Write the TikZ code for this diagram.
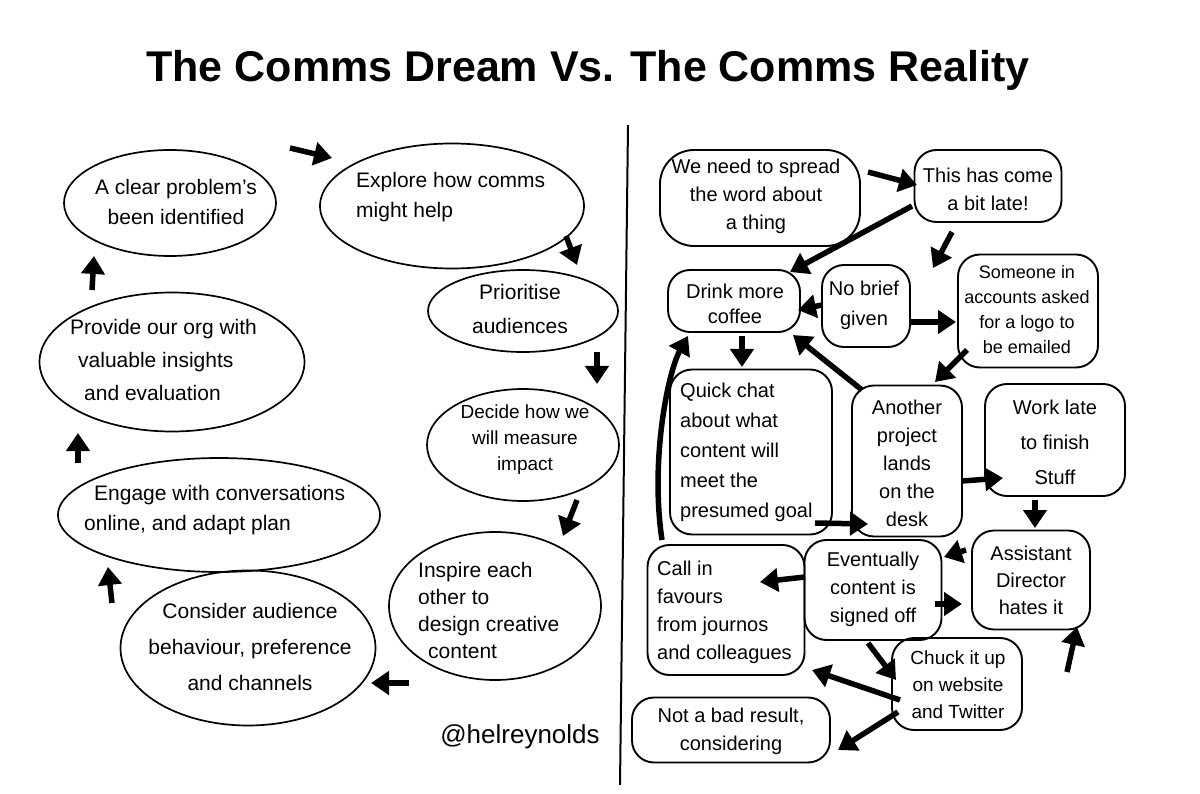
\documentclass[tikz,border=0pt]{standalone}
\usepackage{fontspec}
\setmainfont{Liberation Sans}
\usetikzlibrary{shapes.geometric,arrows.meta}
\begin{document}
\begin{tikzpicture}[x=1pt,y=-1pt,
 ell/.style={draw, ellipse, line width=1.7pt, inner sep=0},
 box/.style={draw, rectangle, rounded corners=22pt, line width=1.9pt, inner sep=0},
 txt/.style={align=center, inner sep=0, font=\fontsize{20}{28}\selectfont},
 ltxt/.style={txt, align=left, anchor=west},
 ttl/.style={txt, font=\fontsize{21}{30}\selectfont},
 lttl/.style={ttl, align=left, anchor=west},
 arr/.style={line width=5.5pt, -{Triangle[length=18pt,width=23pt]}},
 ]
\useasboundingbox[fill=white] (0,0) rectangle (1200,794);
% title and divider
\node[font=\bfseries\fontsize{43}{50}\selectfont] (title) at (588,70) {The Comms Dream Vs. The Comms Reality};
\draw[line width=2pt] (628,125) -- (620,785);
\node[font=\fontsize{26}{30}\selectfont] (sig) at (520,737) {@helreynolds};

% ---------- left: the dream ----------
\node[ell, minimum width=212pt, minimum height=106pt] (A) at (170,203) {};
\node[ttl] (tA) at (176,202) {A clear problem's\\been identified};
\node[ell, minimum width=264pt, minimum height=125pt] (B) at (452,206) {};
\node[lttl] (tB) at (356,197) {Explore how comms\\might help};
\node[ell, minimum width=190pt, minimum height=82pt] (C) at (523,311) {};
\node[ttl, font=\fontsize{21}{34}\selectfont] (tC) at (520,309) {Prioritise\\audiences};
\node[ell, minimum width=192pt, minimum height=112pt] (D) at (523,445) {};
\node[ttl, font=\fontsize{19}{26}\selectfont] (tD) at (525,440) {Decide how we\\will measure\\impact};
\node[ell, minimum width=212pt, minimum height=148pt] (E) at (495,606) {};
\node[lttl, font=\fontsize{21}{27}\selectfont] (tE) at (418,610) {Inspire each\\other to\\design creative\\\hspace*{10pt}content};
\node[ell, minimum width=255pt, minimum height=155pt] (F) at (248,648) {};
\node[ttl, font=\fontsize{21}{36}\selectfont] (tF) at (250,647) {Consider audience\\behaviour, preference\\and channels};
\node[ell, minimum width=322pt, minimum height=114pt] (G) at (219,515) {};
\node[lttl] (tG) at (84,510) {\hspace*{10pt}Engage with conversations\\online, and adapt plan};
\node[ell, minimum width=265pt, minimum height=139pt] (H) at (172,362) {};
\node[lttl, font=\fontsize{21}{33}\selectfont] (tH) at (70,360) {Provide our org with\\\hspace*{8pt}valuable insights\\\hspace*{14pt}and evaluation};

\draw[arr] ([shift={(120,-55)}]A.center) -- ([shift={(-120,-48)}]B.center);
\draw[arr] ([shift={(114,30)}]B.center) -- ([shift={(54,-46)}]C.center);
\draw[arr] ([shift={(74,41)}]C.center) -- ([shift={(74,-61)}]D.center);
\draw[arr] ([shift={(54,55)}]D.center) -- ([shift={(68,-70)}]E.center);
\draw[arr] ([shift={(-86,77)}]E.center) -- ([shift={(123,35)}]F.center);
\draw[arr] ([shift={(-136,-45)}]F.center) -- ([shift={(-111,52)}]G.center);
\draw[arr] ([shift={(-141,-52)}]G.center) -- ([shift={(-94,71)}]H.center);
\draw[arr] ([shift={(-80,-72)}]H.center) -- ([shift={(-76,53)}]A.center);

% ---------- right: the reality ----------
\node[box, rounded corners=34pt, minimum width=200pt, minimum height=96pt] (R1) at (760,198) {};
\node[txt] (tR1) at (756,196) {We need to spread\\the word about\\a thing};
\node[box, minimum width=147pt, minimum height=72pt] (R2) at (988,186) {};
\node[txt] (tR2) at (988,189) {This has come\\a bit late!};
\node[box, minimum width=132pt, minimum height=62pt] (R3) at (734,301) {};
\node[txt, font=\fontsize{20}{25}\selectfont] (tR3) at (735,304) {Drink more\\coffee};
\node[box, minimum width=88pt, minimum height=82pt] (R4) at (866,306) {};
\node[txt, font=\fontsize{20}{30}\selectfont] (tR4) at (864,305) {No brief\\given};
\node[box, minimum width=140pt, minimum height=113pt] (R5) at (1028,311) {};
\node[txt, font=\fontsize{18}{25}\selectfont] (tR5) at (1027,310) {Someone in\\accounts asked\\for a logo to\\be emailed};
\node[box, minimum width=162pt, minimum height=165pt] (R6) at (751,452) {};
\node[ltxt, font=\fontsize{20}{30}\selectfont] (tR6) at (680,452) {Quick chat\\about what\\content will\\meet the\\presumed goal};
\node[box, minimum width=110pt, minimum height=151pt] (R7) at (907,461) {};
\node[txt] (tR7) at (907,463) {Another\\project\\lands\\on the\\desk};
\node[box, minimum width=140pt, minimum height=112pt] (R8) at (1055,440) {};
\node[txt, font=\fontsize{20}{35}\selectfont] (tR8) at (1055,442) {Work late\\to finish\\Stuff};
\node[box, minimum width=118pt, minimum height=99pt] (R9) at (1031,580) {};
\node[txt, font=\fontsize{20}{27}\selectfont] (tR9) at (1031,580) {Assistant\\Director\\hates it};
\node[box, minimum width=137pt, minimum height=100pt] (R10) at (873,590) {};
\node[txt, font=\fontsize{20}{28}\selectfont] (tR10) at (873,589) {Eventually\\content is\\signed off};
\node[box, minimum width=157pt, minimum height=130pt] (R11) at (726,610) {};
\node[ltxt] (tR11) at (657,612) {Call in\\favours\\from journos\\and colleagues};
\node[box, minimum width=130pt, minimum height=92pt] (R12) at (957,684) {};
\node[txt, font=\fontsize{19}{27}\selectfont] (tR12) at (958,685) {Chuck it up\\on website\\and Twitter};
\node[box, minimum width=198pt, minimum height=65pt] (R13) at (731,730) {};
\node[txt] (tR13) at (731,731) {Not a bad result,\\considering};

\draw[arr] ([shift={(108,-26)}]R1.center) -- ([shift={(-71,-1)}]R2.center);
\draw[arr] ([shift={(-76,20)}]R2.center) -- ([shift={(56,-29)}]R3.center);
\draw[arr] ([shift={(-36,46)}]R2.center) -- ([shift={(67,-38)}]R4.center);
\draw[arr] ([shift={(-44,-1)}]R4.center) -- ([shift={(64,9)}]R3.center);
\draw[arr] ([shift={(44,16)}]R4.center) -- ([shift={(-72,11)}]R5.center);
\draw[arr] ([shift={(-61,39)}]R5.center) -- ([shift={(28,-79)}]R7.center);
\draw[arr] ([shift={(8,35)}]R3.center) -- ([shift={(-9,-85)}]R6.center);
\draw[arr] ([shift={(-45,-71)}]R7.center) -- ([shift={(59,34)}]R3.center);
\draw[arr] ([shift={(64,71)}]R6.center) -- ([shift={(-39,63)}]R7.center);
\draw[arr] ([shift={(55,20)}]R7.center) -- ([shift={(-52,38)}]R8.center);
\draw[arr] ([shift={(-20,60)}]R8.center) -- ([shift={(4,-52)}]R9.center);
\draw[arr] ([shift={(-65,-30)}]R9.center) -- ([shift={(71,-33)}]R10.center);
\draw[arr] ([shift={(62,14)}]R10.center) -- ([shift={(-69,24)}]R9.center);
\draw[arr] ([shift={(-68,-13)}]R10.center) -- ([shift={(34,-28)}]R11.center);
\draw[arr] ([shift={(-5,53)}]R10.center) -- ([shift={(-61,-4)}]R12.center);
\draw[arr] ([shift={(-57,16)}]R12.center) -- ([shift={(86,60)}]R11.center);
\draw[arr] ([shift={(-59,28)}]R12.center) -- ([shift={(107,20)}]R13.center);
\draw[arr] ([shift={(110,-12)}]R12.center) -- ([shift={(46,47)}]R9.center);
\draw[arr] ([shift={(-64,-70)}]R11.center) .. controls +(-12,-80) and +(-20,36) .. ([shift={(-46,35)}]R3.center);
\end{tikzpicture}
\end{document}
